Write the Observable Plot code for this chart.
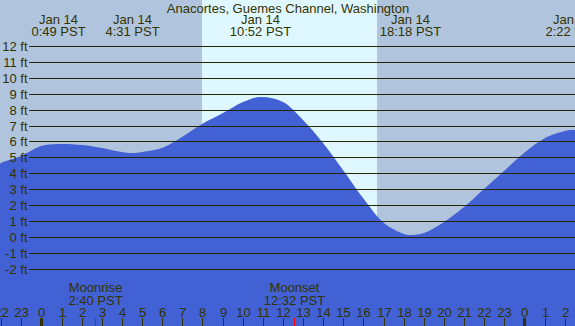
<!DOCTYPE html>
<html>
<head>
<meta charset="utf-8">
<script src="https://cdn.jsdelivr.net/npm/d3@7"></script>
<script src="https://cdn.jsdelivr.net/npm/@observablehq/plot@0.6"></script>
<style>
  html, body { margin: 0; padding: 0; background: #fff; }
  #chart svg { display: block; }
</style>
</head>
<body>
<div id="chart"></div>
<script>
// ---- data (hours relative to midnight Jan 14, PST) ----
const title = "Anacortes, Guemes Channel, Washington";

const tideHours   = [-2.1, -2, -1, 0, 0.82, 2, 3, 4, 4.52, 5, 6, 7, 8, 9, 10, 10.87, 12, 13, 14, 15, 16, 17, 18, 18.3, 19, 20, 21, 22, 23, 24, 25, 26, 26.37, 26.6];
const tideHeights = [4.55, 4.62, 5.1, 5.69, 5.85, 5.76, 5.57, 5.35, 5.27, 5.31, 5.58, 6.3, 7.1, 7.8, 8.45, 8.78, 8.45, 7.35, 5.9, 4.2, 2.45, 0.85, 0.18, 0.1, 0.25, 0.95, 1.9, 3.0, 4.15, 5.3, 6.25, 6.68, 6.75, 6.74];

const eventHours  = [0.817, 4.517, 10.867, 18.3, 26.367];
const eventDates  = ["Jan 14", "Jan 14", "Jan 14", "Jan 14", "Jan 14"];
const eventTimes  = ["0:49 PST", "4:31 PST", "10:52 PST", "18:18 PST", "2:22 PST"];

const sunrise = 7.967;   // 7:58
const sunset  = 16.683;  // 16:41

const moonHours  = [2.667, 12.533];
const moonNames  = ["Moonrise", "Moonset"];
const moonTimes  = ["2:40 PST", "12:32 PST"];

const footTicks  = [12, 11, 10, 9, 8, 7, 6, 5, 4, 3, 2, 1, 0, -1, -2];
const hourTicks  = [-2, -1, 0, 1, 2, 3, 4, 5, 6, 7, 8, 9, 10, 11, 12, 13, 14, 15, 16, 17, 18, 19, 20, 21, 22, 23, 24, 25, 26];
const waterFloor = -6;

// ---- build tables ----
const tide = tideHours.map((t, i) => ({t, h: tideHeights[i]}));
const events = eventHours.map((t, i) => ({t, label: eventDates[i] + "\n" + eventTimes[i]}));
const moons = moonHours.map((t, i) => ({t, label: moonNames[i] + "\n" + moonTimes[i]}));
const hourLabel = h => String(((h % 24) + 24) % 24);

const ink = "#333300";
const gridInk = "#262600";

const chart = Plot.plot({
  width: 575,
  height: 326,
  margin: 0,
  x: {domain: [0, 24], range: [41.4, 524.4], round: true, axis: null},
  y: {domain: [-2, 12], range: [268.8, 46], round: true, axis: null},
  style: {background: "#b0c4de", fontFamily: "'Liberation Sans', Arial, sans-serif", fontSize: "13px", color: ink},
  marks: [
    // daylight
    Plot.rect([{x1: sunrise, x2: sunset}], {x1: "x1", x2: "x2", fill: "#dff8ff"}),
    // water
    Plot.areaY(tide, {x: "t", y1: waterFloor, y2: "h", fill: "#4161d5", curve: "catmull-rom"}),
    // horizontal grid
    Plot.ruleY(footTicks, {y: d => d, stroke: gridInk, strokeWidth: 1.2, insetLeft: 29}),
    // y labels
    Plot.text(footTicks, {y: d => d, text: d => `${d} ft`, frameAnchor: "left", dx: 27, textAnchor: "end", fill: ink}),
    // title
    Plot.text([title], {text: d => d, frameAnchor: "top", lineAnchor: "bottom", dy: 12, fill: ink}),
    // tide event labels
    Plot.text(events, {x: "t", text: "label", frameAnchor: "top", lineAnchor: "top", lineHeight: 0.93, dy: 14.6, fill: ink}),
    // moon labels
    Plot.text(moons, {x: "t", text: "label", frameAnchor: "bottom", lineAnchor: "bottom", lineHeight: 0.93, dy: -22, fill: ink}),
    // hour ticks
    Plot.ruleX(hourTicks, {x: d => d, stroke: ink, strokeWidth: d => (d % 24 === 0 ? 3 : 1), insetTop: 318}),
    // moon ticks
    Plot.ruleX(moonHours, {x: d => d, stroke: "#ff0000", strokeWidth: 1, insetTop: 318}),
    // hour labels
    Plot.text(hourTicks, {x: d => d, text: hourLabel, frameAnchor: "bottom", lineAnchor: "bottom", dy: -10, fill: ink})
  ]
});
document.getElementById("chart").appendChild(chart);
</script>
</body>
</html>
